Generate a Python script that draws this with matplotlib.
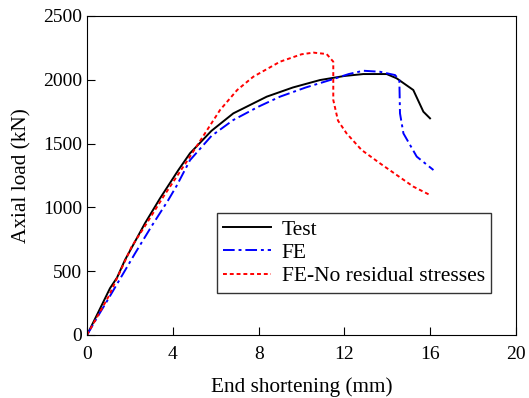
import matplotlib
matplotlib.use("Agg")
import matplotlib.pyplot as plt

# curves (end shortening mm, axial load kN)
test_x = [0, 0.5, 1.07, 1.4, 1.77, 2.7, 3.4, 4.26, 4.8, 5.8, 6.82, 8.38, 9.6, 10.86, 12.0, 12.88, 13.97, 14.43, 15.21, 15.68, 15.99]
test_y = [0, 170, 366, 450, 588, 875, 1070, 1293, 1424, 1600, 1737, 1868, 1940, 1998, 2030, 2045, 2045, 2012, 1920, 1750, 1698]

fe_x = [0, 0.5, 1.0, 2.24, 3.0, 3.79, 4.18, 4.8, 5.8, 6.82, 8.0, 9.0, 10.2, 11.33, 12.2, 12.88, 13.66, 14.36, 14.56, 14.59, 14.75, 15.37, 16.15]
fe_y = [0, 145, 285, 640, 850, 1058, 1170, 1370, 1560, 1685, 1790, 1868, 1940, 1998, 2045, 2071, 2063, 2037, 1998, 1737, 1580, 1398, 1293]

nr_x = [0, 0.5, 1.0, 2.08, 2.8, 3.56, 4.8, 6.2, 7.0, 7.75, 9.0, 10.0, 10.55, 11.17, 11.48, 11.48, 11.48, 11.7, 12.1, 12.8, 13.66, 15.21, 15.99]
nr_y = [0, 150, 300, 692, 880, 1084, 1398, 1763, 1920, 2024, 2142, 2200, 2213, 2202, 2142, 1998, 1842, 1680, 1580, 1450, 1345, 1163, 1097]

plt.rcParams['font.family'] = ['Liberation Serif', 'DejaVu Serif']
plt.rcParams['font.size'] = 14

fig = plt.figure(figsize=(5.29, 3.98), dpi=100)
ax = fig.add_axes([0.1645, 0.1583, 0.811, 0.8015])

ax.plot(test_x, test_y, color='black', lw=1.4, label='Test')
ax.plot(fe_x, fe_y, color='blue', lw=1.4, ls=(0, (6, 2, 1.5, 2)), label='FE')
ax.plot(nr_x, nr_y, color='red', lw=1.4, ls=(0, (2, 1.5)), label='FE-No residual stresses')

ax.set_xlim(0, 20)
ax.set_ylim(0, 2500)
ax.set_xticks([0, 4, 8, 12, 16, 20])
ax.set_yticks([0, 500, 1000, 1500, 2000, 2500])
ax.tick_params(direction='in', length=6, top=False, right=False, labelsize=14)
ax.tick_params(axis='x', pad=8)
ax.set_xlabel('End shortening (mm)', fontsize=15.3, labelpad=10.5)
ax.set_ylabel('Axial load (kN)', fontsize=15.3, labelpad=8)

leg = ax.legend(loc='upper left', bbox_to_anchor=(0.303, 0.382), borderaxespad=0,
                fontsize=15.5, frameon=True, fancybox=False, edgecolor='black',
                handlelength=2.2, borderpad=0.3, labelspacing=0.15, handletextpad=0.5)
leg.get_frame().set_linewidth(1.0)

fig.savefig('out.png', dpi=100)
